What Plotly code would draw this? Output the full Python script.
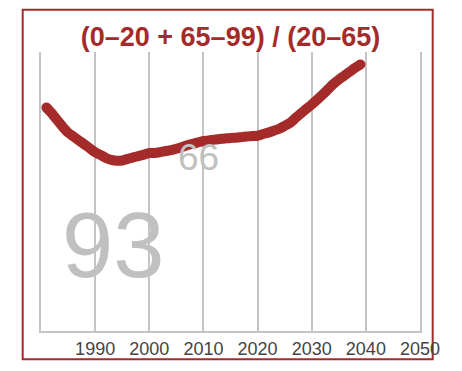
import plotly.graph_objects as go

# dependency ratio (0-20 + 65-99) / (20-65)
years = list(range(1981, 2040))
ratio = [
    80.1, 78.0, 75.6, 73.2, 71.1, 69.7, 68.3, 66.9, 65.5, 64.1,   # 1981-1990
    63.1, 62.0, 61.3, 61.0, 61.1, 61.7, 62.2, 62.7, 63.2, 63.8,   # 1991-2000
    63.8, 64.1, 64.5, 64.8, 65.3, 65.9, 66.6, 67.1, 67.6, 68.1,   # 2001-2010
    68.3, 68.6, 68.8, 69.0, 69.2, 69.3, 69.5, 69.7, 69.9, 70.0,   # 2011-2020
    70.6, 71.1, 71.8, 72.5, 73.5, 74.6, 76.3, 78.0, 79.6, 81.2,   # 2021-2030
    82.9, 84.7, 86.6, 88.5, 90.1, 91.5, 92.9, 94.3, 95.5,         # 2031-2039
]
tick_years = [1990, 2000, 2010, 2020, 2030, 2040, 2050]
title_text = "(0\u201320 + 65\u201399) / (20\u201365)"
big_label = "93"
small_label = "66"

red = "#a52a2a"
grey = "#c4c4c4"

fig = go.Figure()
fig.add_trace(go.Scatter(
    x=years, y=ratio, mode="lines",
    line=dict(color=red, width=10, shape="spline", smoothing=0.8),
    hoverinfo="skip", showlegend=False,
))
# round ends of the thick line
fig.add_trace(go.Scatter(
    x=[years[0], years[-1]], y=[ratio[0], ratio[-1]], mode="markers",
    marker=dict(color=red, size=10),
    hoverinfo="skip", showlegend=False,
))

fig.add_annotation(x=1993.3, y=30.8, xref="x", yref="y", text=big_label,
                   showarrow=False, font=dict(size=92, color="#c0c0c0",
                                              family="Liberation Sans, Arial"))
fig.add_annotation(x=2009.0, y=62.2, xref="x", yref="y", text=small_label,
                   showarrow=False, font=dict(size=37, color="#c0c0c0",
                                              family="Liberation Sans, Arial"))

# frame around the whole chart
fig.add_shape(type="rect", xref="paper", yref="paper",
              x0=-0.0483, x1=1.0335, y0=-0.101, y1=1.1516,
              line=dict(color=red, width=2), layer="below")

fig.update_layout(
    width=454, height=363,
    margin=dict(l=33, r=42, t=44, b=32),
    paper_bgcolor="white", plot_bgcolor="white",
    font=dict(family="Liberation Sans, Arial", color="#444"),
    title=dict(text="<b>" + title_text + "</b>", x=0.5, xref="paper",
               xanchor="center", y=0.92, yanchor="middle",
               font=dict(size=27, color=red)),
    xaxis=dict(range=[1980, 2050], tickvals=tick_years,
               showgrid=True, gridcolor=grey, gridwidth=1.5,
               showline=True, linecolor=grey, linewidth=2,
               ticks="", tickfont=dict(size=18, color="#444"),
               zeroline=False, fixedrange=True),
    yaxis=dict(range=[0, 100], showgrid=False, showticklabels=False,
               showline=True, linecolor=grey, linewidth=1.5, mirror=True,
               ticks="", zeroline=False, fixedrange=True),
)

fig.write_html("out.html")
